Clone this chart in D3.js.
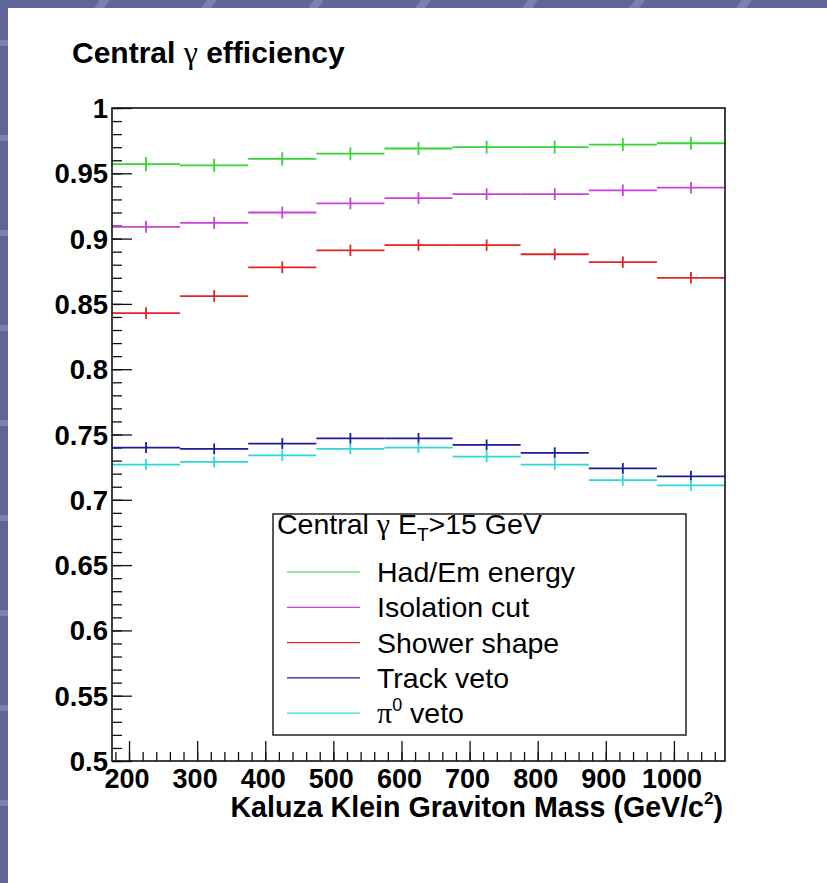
<!DOCTYPE html>
<html>
<head>
<meta charset="utf-8">
<script src="https://cdn.jsdelivr.net/npm/d3@7"></script>
<style>
  body { margin: 0; background: #fff; }
  text { font-family: "Liberation Sans", Arial, Helvetica, sans-serif; }
  .greek { font-family: "Liberation Serif", "DejaVu Serif", serif; font-weight: normal; }
</style>
</head>
<body>
<svg id="svg"></svg>
<script>
// bin centres (GeV/c^2), bins are 100 wide
const mass = [225, 325, 425, 525, 625, 725, 825, 925, 1025];
const binWidth = 100;

// efficiencies
const hadEm     = [0.957, 0.956, 0.961, 0.965, 0.969, 0.970, 0.970, 0.972, 0.973];
const isolation = [0.909, 0.912, 0.920, 0.927, 0.931, 0.934, 0.934, 0.937, 0.939];
const shower    = [0.843, 0.856, 0.878, 0.891, 0.895, 0.895, 0.888, 0.882, 0.870];
const track     = [0.740, 0.739, 0.743, 0.747, 0.747, 0.742, 0.736, 0.724, 0.718];
const pi0       = [0.727, 0.729, 0.734, 0.739, 0.740, 0.733, 0.727, 0.715, 0.711];

// error bar half heights
const hadEmErr     = [0.0054, 0.0052, 0.0052, 0.0050, 0.0050, 0.0050, 0.0050, 0.0050, 0.0050];
const isolationErr = [0.0046, 0.0046, 0.0046, 0.0045, 0.0045, 0.0045, 0.0045, 0.0045, 0.0045];
const showerErr    = [0.0045, 0.0045, 0.0045, 0.0044, 0.0044, 0.0044, 0.0044, 0.0044, 0.0044];
const trackErr     = [0.0042, 0.0042, 0.0042, 0.0042, 0.0042, 0.0042, 0.0042, 0.0042, 0.0042];
const pi0Err       = [0.0042, 0.0042, 0.0042, 0.0042, 0.0042, 0.0042, 0.0042, 0.0042, 0.0042];

const seriesNames = ["Had/Em energy", "Isolation cut", "Shower shape", "Track veto", "veto"];
const seriesColors = ["#33d633", "#c644d6", "#e02424", "#1c1ca0", "#2ed8d8"];

const xTicks = [200, 300, 400, 500, 600, 700, 800, 900, 1000];
const yTicks = [0.5, 0.55, 0.6, 0.65, 0.7, 0.75, 0.8, 0.85, 0.9, 0.95, 1];
const yTickLabels = ["0.5", "0.55", "0.6", "0.65", "0.7", "0.75", "0.8", "0.85", "0.9", "0.95", "1"];

let series = [
  { name: seriesNames[0], color: seriesColors[0], values: hadEm, errs: hadEmErr },
  { name: seriesNames[1], color: seriesColors[1], values: isolation, errs: isolationErr },
  { name: seriesNames[2], color: seriesColors[2], values: shower, errs: showerErr },
  { name: seriesNames[3], color: seriesColors[3], values: track, errs: trackErr },
  { name: seriesNames[4], color: seriesColors[4], values: pi0, errs: pi0Err }
];

//////////////////////////////////////////////////////////////////////////////

let width = 827, height = 883;
let frame = { x1: 112, x2: 725, y1: 108, y2: 761 };

let svg = d3.select("#svg").attr("width", width).attr("height", height);

// slide background strips (top and left)
svg.append("rect").attr("x", 0).attr("y", 0).attr("width", width).attr("height", 8).attr("fill", "#5f6598");
svg.append("rect").attr("x", 0).attr("y", 0).attr("width", 8).attr("height", height).attr("fill", "#5f6598");
for (let i = 0; i < 8; ++i) {
  let x0 = 100 + i * 107;
  svg.append("path").attr("d", `M${x0},0 L${x0 + 10},0 L${x0 + 4},8 L${x0 - 6},8 Z`).attr("fill", "#7a80b0");
}
for (let i = 0; i < 9; ++i) {
  svg.append("rect").attr("x", 0).attr("y", 40 + i * 95).attr("width", 8).attr("height", 6).attr("fill", "#7a80b0");
}

let x = d3.scaleLinear().domain([175, 1075]).range([frame.x1, frame.x2]);
let y = d3.scaleLinear().domain([0.5, 1]).range([frame.y2, frame.y1]);

function stext(g, px, py, str, size, weight, anchor) {
  return g.append("text")
    .attr("x", px).attr("y", py)
    .attr("font-size", size)
    .attr("font-weight", weight)
    .attr("text-anchor", anchor)
    .attr("fill", "#000")
    .text(str);
}

// ticks (inside the frame)
let axes = svg.append("g");
axes.append("g").attr("transform", `translate(0,${frame.y2})`)
  .call(d3.axisBottom(x).tickValues(d3.range(180, 1075, 20)).tickSize(-9).tickFormat(""));
axes.append("g").attr("transform", `translate(0,${frame.y2})`)
  .call(d3.axisBottom(x).tickValues(xTicks).tickSize(-20).tickFormat(""));
axes.append("g").attr("transform", `translate(${frame.x1},0)`)
  .call(d3.axisLeft(y).tickValues(d3.range(0, 51).map(d => 0.5 + d * 0.01)).tickSize(-10).tickFormat(""));
axes.append("g").attr("transform", `translate(${frame.x1},0)`)
  .call(d3.axisLeft(y).tickValues(yTicks).tickSize(-20).tickFormat(""));
axes.selectAll(".domain").remove();
axes.selectAll("line").attr("stroke", "#111").attr("stroke-width", 1.3);

// histograms with error bars
let hist = svg.append("g");
series.forEach(function(s) {
  let g = hist.append("g").attr("stroke", s.color).attr("stroke-width", 1.8).attr("fill", "none");
  g.selectAll("line.h").data(mass).enter().append("line")
    .attr("x1", (m) => x(m - binWidth / 2))
    .attr("x2", (m) => x(Math.min(m + binWidth / 2, 1075)))
    .attr("y1", (m, i) => y(s.values[i]))
    .attr("y2", (m, i) => y(s.values[i]));
  g.selectAll("line.v").data(mass).enter().append("line")
    .attr("x1", (m) => x(m))
    .attr("x2", (m) => x(m))
    .attr("y1", (m, i) => y(s.values[i] - s.errs[i]))
    .attr("y2", (m, i) => y(s.values[i] + s.errs[i]));
});

// frame
svg.append("rect")
  .attr("x", frame.x1).attr("y", frame.y1)
  .attr("width", frame.x2 - frame.x1).attr("height", frame.y2 - frame.y1)
  .attr("fill", "none").attr("stroke", "#111").attr("stroke-width", 1.6);

// tick labels
let labels = svg.append("g");
xTicks.forEach(function(t) {
  stext(labels, x(t) - 2, 788, String(t), 27, "bold", "middle");
});
yTicks.forEach(function(t, i) {
  stext(labels, frame.x1 - 4, y(t) + 10, yTickLabels[i], 27.5, "bold", "end");
});

// title + axis title
let title = stext(svg, 72, 63, "", 30, "bold", "start");
title.append("tspan").text("Central ");
title.append("tspan").attr("class", "greek").attr("font-size", 32).text("\u03b3");
title.append("tspan").text(" efficiency");

let xt = stext(svg, 723, 817, "", 28.6, "bold", "end");
xt.append("tspan").text("Kaluza Klein Graviton Mass (GeV/c");
xt.append("tspan").attr("font-size", 17).attr("dy", -13).text("2");
xt.append("tspan").attr("dy", 13).text(")");

// legend
let leg = svg.append("g");
leg.append("rect").attr("x", 273).attr("y", 514).attr("width", 413).attr("height", 221)
  .attr("fill", "#fff").attr("stroke", "#222").attr("stroke-width", 1.5);
let hdr = stext(leg, 277, 534, "", 28.5, "normal", "start");
hdr.append("tspan").text("Central ");
hdr.append("tspan").attr("class", "greek").attr("font-size", 30).text("\u03b3");
hdr.append("tspan").text(" E");
hdr.append("tspan").attr("font-size", 19).attr("dy", 7).text("T");
hdr.append("tspan").attr("dy", -7).text(">15 GeV");

series.forEach(function(s, i) {
  let by = 582 + i * 35.3;
  leg.append("line").attr("x1", 287).attr("x2", 360).attr("y1", by - 10).attr("y2", by - 10)
    .attr("stroke", s.color).attr("stroke-width", 1.2);
  if (i === 4) {
    let t = stext(leg, 377, by, "", 28.5, "normal", "start");
    t.append("tspan").attr("class", "greek").attr("font-size", 30).text("\u03c0");
    t.append("tspan").attr("font-size", 18).attr("dy", -12).text("0");
    t.append("tspan").attr("dy", 12).text(" " + s.name);
  } else {
    stext(leg, 377, by, s.name, 28.5, "normal", "start");
  }
});
</script>
</body>
</html>
